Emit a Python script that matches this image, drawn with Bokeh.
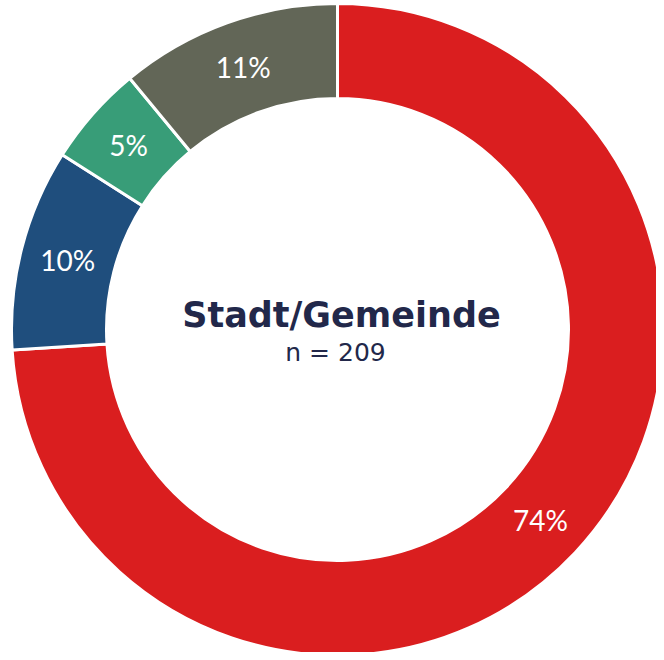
import math
from bokeh.plotting import figure
from bokeh.models import ColumnDataSource, Range1d
from bokeh.core.properties import value
from bokeh.embed import file_html
from bokeh.resources import INLINE

categories = ["A", "B", "C", "D"]
shares = [74, 10, 5, 11]
labels = ["74%", "10%", "5%", "11%"]
colors = ["#DA1E1F", "#1F4E7D", "#389D78", "#626657"]
title = "Stadt/Gemeinde"
subtitle = "n = 209"

W, H = 656, 652
cx, cy = 337, H - 329
r_out, r_in = 326, 231

total = sum(shares)
starts, ends, lx, ly = [], [], [], []
cum = 0.0
for s in shares:
    a0 = math.pi / 2 - 2 * math.pi * cum / total
    cum += s
    a1 = math.pi / 2 - 2 * math.pi * cum / total
    starts.append(a0)
    ends.append(a1)
    mid = (a0 + a1) / 2
    rl = (r_in + r_out) / 2
    lx.append(cx + rl * math.cos(mid))
    ly.append(cy + rl * math.sin(mid))

src = ColumnDataSource(dict(cat=categories, start=starts, end=ends, color=colors,
                            lx=lx, ly=ly, label=labels))

p = figure(width=W, height=H, output_backend="svg", toolbar_location=None,
           x_range=Range1d(0, W), y_range=Range1d(0, H), min_border=0)
p.axis.visible = False
p.grid.visible = False
p.outline_line_color = None
p.background_fill_color = "white"

p.annular_wedge(x=cx, y=cy, inner_radius=r_in, outer_radius=r_out,
                start_angle="start", end_angle="end", direction="clock",
                fill_color="color", line_color="white", line_width=3, source=src)

p.text(x="lx", y="ly", text="label", source=src, text_color="white",
       text_font=value("Lato"), text_font_size="28px",
       text_align="center", text_baseline="middle")

p.text(x=[cx + 4], y=[cy + 15], text=[title], text_color="#22284A",
       text_font=value("DejaVu Sans"), text_font_style="bold", text_font_size="35px",
       text_align="center", text_baseline="middle")
p.text(x=[cx - 2], y=[cy - 23], text=[subtitle], text_color="#22284A",
       text_font=value("DejaVu Sans"), text_font_size="25px",
       text_align="center", text_baseline="middle")

open("out.html", "w").write(file_html(p, INLINE))
